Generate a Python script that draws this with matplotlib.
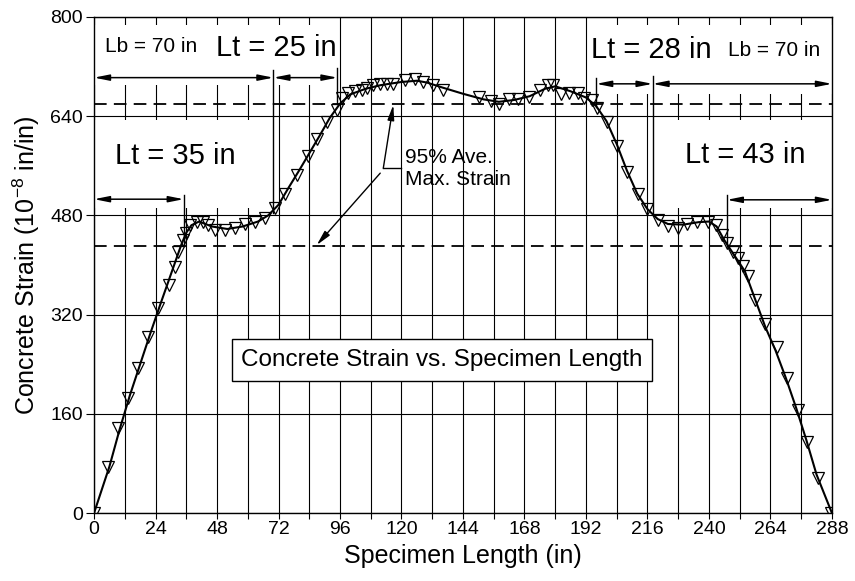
import matplotlib
matplotlib.use("Agg")
import matplotlib.pyplot as plt
from matplotlib.patches import Rectangle

plt.rcParams['font.family'] = ['Liberation Sans', 'DejaVu Sans']
plt.rcParams['mathtext.fontset'] = 'custom'
plt.rcParams['mathtext.rm'] = 'Liberation Sans'
plt.rcParams['mathtext.it'] = 'Liberation Sans:italic'

# ---- data ----
marker_x = [0, 5.6, 9.5, 13.4, 17.3, 21.2, 25.1, 29.4, 31.6, 32.9, 34.9, 35.9, 37.5, 40.0,
            42.7, 44.6, 47.2, 51.1, 55.0, 58.9, 62.8, 66.7, 70.6, 74.5, 79.1, 83.6, 87.1,
            90.8, 94.7, 96.7, 99.2, 101.9, 104.5, 106.4, 109.0, 111.6, 114.2, 116.8, 121.4,
            125.3, 128.5, 132.4, 136.3, 150.3, 154.8, 158.1, 162.0, 165.3, 169.8, 174.0,
            177.0, 179.2, 182.2, 185.5, 188.7, 191.3, 194.2, 196.5, 200.3, 204.0, 207.9,
            212.4, 216.0, 220.0, 224.0, 228.0, 231.6, 235.5, 239.7, 242.7, 245.0, 246.9,
            249.5, 251.4, 253.4, 255.3, 258.0, 261.8, 266.4, 270.3, 274.8, 278.1, 282.6, 287.5]
marker_y = [0, 75, 137, 185, 234, 284, 330, 367, 397, 421, 440, 452, 464, 470,
            469, 464, 456, 456, 459, 466, 469, 475, 491, 515, 545, 575, 603,
            631, 650, 669, 677, 680, 682, 685, 690, 692, 692, 692, 698,
            700, 695, 690, 682, 670, 665, 660, 667, 668, 670, 682,
            690, 690, 676, 677, 677, 669, 666, 653, 631, 591, 550,
            515, 490, 473, 463, 460, 466, 470, 469, 464, 448, 435,
            421, 411, 398, 382, 344, 305, 268, 217, 166, 115, 56, 0]

curve_x = [0, 6, 10, 14, 18, 22, 26, 30, 34, 36, 38, 41, 46, 52, 58, 64, 68, 72, 76, 80,
           84, 88, 92, 96, 100, 106, 112, 120, 126, 130, 136, 144, 152, 158, 164, 170,
           176, 180, 186, 192, 196, 200, 204, 208, 212, 216, 220, 224, 230, 236, 240,
           243, 246, 250, 254, 258, 262, 266, 270, 274, 278, 282, 288]
curve_y = [0, 75, 135, 190, 240, 290, 338, 385, 432, 452, 464, 470, 462, 458, 462, 470,
           480, 497, 525, 552, 580, 608, 637, 660, 675, 684, 690, 695, 697, 694, 686,
           676, 667, 663, 666, 672, 684, 688, 680, 670, 656, 632, 595, 552, 515, 490,
           474, 466, 465, 469, 470, 462, 440, 415, 390, 345, 300, 262, 218, 170, 118,
           62, 0]

avg95_upper = 660
avg95_lower = 430

x_ticks = [0, 24, 48, 72, 96, 120, 144, 168, 192, 216, 240, 264, 288]
y_ticks = [0, 160, 320, 480, 640, 800]

title_text = "Concrete Strain vs. Specimen Length"
x_label = "Specimen Length (in)"
y_label = r"Concrete Strain (10$^{\mathregular{-8}}$ in/in)"

# ---- figure ----
fig = plt.figure(figsize=(8.55, 5.81), dpi=100)
ax = fig.add_axes([0.110, 0.117, 0.863, 0.854])
ax.set_xlim(0, 288)
ax.set_ylim(0, 800)
ax.set_axisbelow(True)

ax.set_xticks(x_ticks)
ax.set_xticks(list(range(12, 288, 24)), minor=True)
ax.set_yticks(y_ticks)
ax.grid(True, which='both', axis='x', color='black', lw=0.8)
ax.grid(True, which='major', axis='y', color='black', lw=0.8)
ax.tick_params(axis='x', which='both', direction='out', length=4, width=0.8, pad=2, labelsize=14)
ax.tick_params(axis='y', direction='out', length=6, width=0.8, pad=2, labelsize=14)
for s in ax.spines.values():
    s.set_linewidth(1.0)

ax.set_xlabel(x_label, fontsize=18, labelpad=4)
ax.set_ylabel(y_label, fontsize=18, labelpad=6)

# white areas hiding the grid behind the labels
for (x0, y0, w, h) in [(0, 690, 94, 97), (193, 676, 95, 111), (0, 492, 66, 142), (219, 492, 69, 142)]:
    ax.add_patch(Rectangle((x0, y0), w, h, facecolor='white', edgecolor='none', zorder=1))

# 95% lines
ax.axhline(avg95_upper, color='black', lw=1.3, linestyle=(0, (7, 4)), zorder=2)
ax.axhline(avg95_lower, color='black', lw=1.3, linestyle=(0, (7, 4)), zorder=2)

# curve and points
ax.plot(curve_x, curve_y, color='black', lw=1.5, zorder=3)
ax.plot(marker_x, marker_y, linestyle='none', marker='v', markersize=9, fillstyle='none',
        markeredgecolor='black', markeredgewidth=0.9, zorder=4)

# length markers
aprops = dict(arrowstyle='<|-|>,head_length=0.9,head_width=0.18', color='black', lw=1.1,
              shrinkA=0, shrinkB=0)

def dim(x0, x1, y):
    ax.annotate('', xy=(x1, y), xytext=(x0, y), arrowprops=aprops, zorder=5)

dim(0, 70, 702)
dim(70, 95, 702)
dim(0, 35, 506)
dim(196, 218, 692)
dim(218, 288, 692)
dim(247, 288, 505)

for (x, y0, y1) in [(70, 714, 484), (95, 717, 660), (35, 513, 430), (196, 702, 655),
                    (218, 704, 482), (247, 513, 430)]:
    ax.plot([x, x], [y0, y1], color='black', lw=1.0, zorder=5)

# labels
ax.text(22.4, 752, "Lb = 70 in", fontsize=15, ha='center', va='center', zorder=6)
ax.text(71.3, 750, "Lt = 25 in", fontsize=21, ha='center', va='center', zorder=6)
ax.text(31.6, 575, "Lt = 35 in", fontsize=21, ha='center', va='center', zorder=6)
ax.text(217.6, 747, "Lt = 28 in", fontsize=21, ha='center', va='center', zorder=6)
ax.text(265.4, 745, "Lb = 70 in", fontsize=15, ha='center', va='center', zorder=6)
ax.text(254, 577, "Lt = 43 in", fontsize=21, ha='center', va='center', zorder=6)

ax.text(121.4, 574, "95% Ave.", fontsize=15, ha='left', va='center', zorder=6)
ax.text(121.4, 537, "Max. Strain", fontsize=15, ha='left', va='center', zorder=6)
ax.plot([112.9, 120], [556, 556], color='black', lw=1.0, zorder=5)
lprops = dict(arrowstyle='-|>,head_length=0.9,head_width=0.2', color='black', lw=1.0,
              shrinkA=0, shrinkB=0)
ax.annotate('', xy=(116.8, 658), xytext=(112.9, 556), arrowprops=lprops, zorder=5)
ax.annotate('', xy=(86.9, 432), xytext=(111.7, 548), arrowprops=lprops, zorder=5)

ax.text(135.8, 247, title_text, fontsize=17.5, ha='center', va='center', zorder=6,
        bbox=dict(boxstyle='square,pad=0.4', facecolor='white', edgecolor='black', lw=1.0))

fig.savefig("out.png", dpi=100)
